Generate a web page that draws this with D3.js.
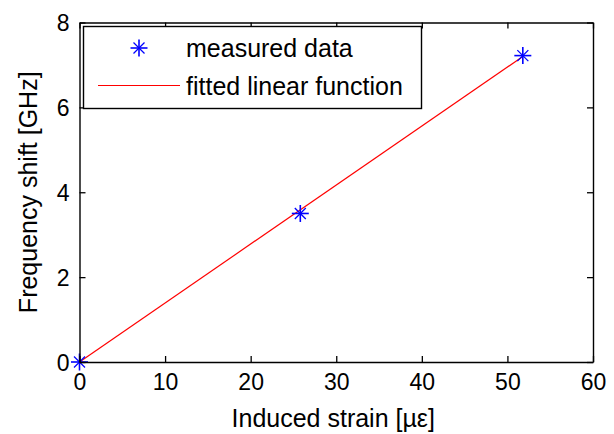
<!DOCTYPE html>
<html>
<head>
<meta charset="utf-8">
<script src="https://cdn.jsdelivr.net/npm/d3@7"></script>
<style>
  html, body { margin: 0; padding: 0; background: #fff; }
  svg { display: block; }
  text { font-family: "Liberation Sans", Arial, Helvetica, sans-serif; fill: #000; }
</style>
</head>
<body>
<svg id="chart" width="614" height="434"></svg>
<script>
// Measured strain / frequency-shift pairs
const strainValues = [0, 25.8, 51.8];
const shiftValues = [0, 3.5, 7.22];

// End points of the fitted straight line
const fitStrain = [0, 51.8];
const fitShift = [0, 7.2];

// Axis ticks
const xTicks = [0, 10, 20, 30, 40, 50, 60];
const yTicks = [0, 2, 4, 6, 8];

const legendLabels = ["measured data", "fitted linear function"];
const xTitle = "Induced strain [\u00b5\u03b5]";
const yTitle = "Frequency shift [GHz]";

const svg = d3.select("#chart");
const plot = { left: 79.5, right: 593, top: 22.5, bottom: 362 };

const x = d3.scaleLinear().domain([0, 60]).range([plot.left, plot.right]);
const y = d3.scaleLinear().domain([0, 8]).range([plot.bottom, plot.top]);

// Asterisk marker: a plus sign overlaid with a diagonal cross
function star(g, cx, cy) {
  const s = g.append("g").attr("transform", `translate(${cx},${cy})`)
    .attr("stroke", "#0000ff").attr("stroke-width", 1.6).attr("fill", "none");
  s.append("line").attr("x1", -8.5).attr("x2", 8.5).attr("y1", 0).attr("y2", 0);
  s.append("line").attr("x1", 0).attr("x2", 0).attr("y1", -8.5).attr("y2", 8.5);
  s.append("line").attr("x1", -5.5).attr("x2", 5.5).attr("y1", -5.5).attr("y2", 5.5).attr("stroke-width", 1.3);
  s.append("line").attr("x1", -5.5).attr("x2", 5.5).attr("y1", 5.5).attr("y2", -5.5).attr("stroke-width", 1.3);
}

// Fitted line
const fitData = fitStrain.map((v, i) => [v, fitShift[i]]);
svg.append("path")
  .datum(fitData)
  .attr("fill", "none")
  .attr("stroke", "#ff0000")
  .attr("stroke-width", 1.2)
  .attr("d", d3.line().x(d => x(d[0])).y(d => y(d[1])));

// Measured points
const pts = svg.append("g");
strainValues.forEach((v, i) => star(pts, x(v), y(shiftValues[i])));

// Axes with inward ticks on all four sides
const tickLen = 6;
const bottomAxis = d3.axisBottom(x).tickValues(xTicks).tickSizeInner(-tickLen).tickSizeOuter(0).tickPadding(12);
const leftAxis = d3.axisLeft(y).tickValues(yTicks).tickSizeInner(-tickLen).tickSizeOuter(0).tickPadding(10);
const topAxis = d3.axisTop(x).tickValues(xTicks).tickSizeInner(-tickLen).tickSizeOuter(0).tickFormat("");
const rightAxis = d3.axisRight(y).tickValues(yTicks).tickSizeInner(-tickLen).tickSizeOuter(0).tickFormat("");

function styleAxis(g) {
  g.select(".domain").attr("stroke", "#000").attr("stroke-width", 1.4);
  g.selectAll(".tick line").attr("stroke", "#000").attr("stroke-width", 1.3);
  g.selectAll(".tick text").attr("font-size", 23).attr("fill", "#000")
    .attr("font-family", "'Liberation Sans', Arial, sans-serif");
}

svg.append("g").attr("transform", `translate(0,${plot.bottom})`).call(bottomAxis).call(styleAxis);
svg.append("g").attr("transform", `translate(${plot.left},0)`).call(leftAxis).call(styleAxis)
  .selectAll(".tick text").attr("dy", "0.36em");
svg.append("g").attr("transform", `translate(0,${plot.top})`).call(topAxis).call(styleAxis);
svg.append("g").attr("transform", `translate(${plot.right},0)`).call(rightAxis).call(styleAxis);

// Axis titles
svg.append("text")
  .attr("x", (plot.left + plot.right) / 2 - 3)
  .attr("y", 427)
  .attr("text-anchor", "middle")
  .attr("font-size", 25)
  .text(xTitle);

svg.append("text")
  .attr("transform", `translate(36.5,${(plot.top + plot.bottom) / 2}) rotate(-90)`)
  .attr("text-anchor", "middle")
  .attr("font-size", 25)
  .text(yTitle);

// Legend box
const legend = svg.append("g");
legend.append("rect")
  .attr("x", 83.5).attr("y", 26.5)
  .attr("width", 338).attr("height", 82)
  .attr("fill", "#fff")
  .attr("stroke", "#000")
  .attr("stroke-width", 1.4);

star(legend, 139, 48);
legend.append("line")
  .attr("x1", 98).attr("x2", 180)
  .attr("y1", 85.5).attr("y2", 85.5)
  .attr("stroke", "#ff0000").attr("stroke-width", 1.2);

legendLabels.forEach((t, i) => {
  legend.append("text")
    .attr("x", 186)
    .attr("y", 48 + i * 38)
    .attr("dy", "0.36em")
    .attr("font-size", 25)
    .text(t);
});
</script>
</body>
</html>
